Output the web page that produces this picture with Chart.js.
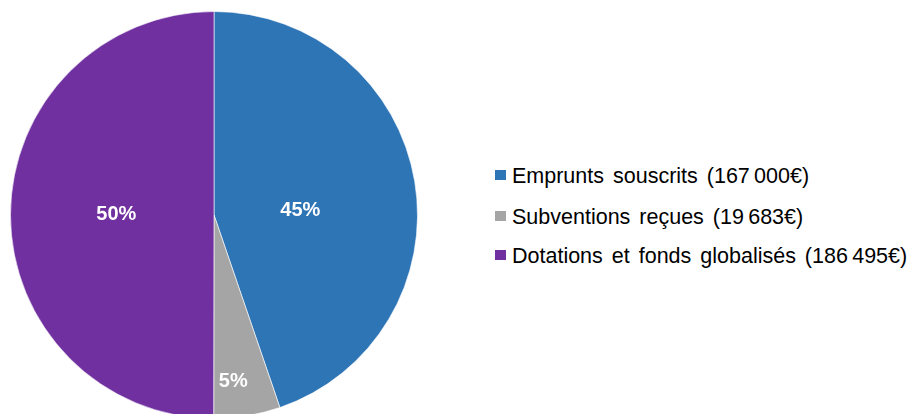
<!DOCTYPE html>
<html>
<head>
<meta charset="utf-8">
<script src="https://cdn.jsdelivr.net/npm/chart.js@4"></script>
<style>
  html, body { margin: 0; padding: 0; background: #fff; overflow: hidden; }
  body { width: 910px; height: 414px; position: relative; }
  #pieBox { position: absolute; left: 0; top: 0; width: 432px; height: 432px; }
  #legend { position: absolute; left: 495px; top: 0; font-family: "Liberation Sans", Arial, sans-serif; font-size: 21.5px; line-height: 22px; color: #000; }
  .item { position: absolute; left: 0; white-space: nowrap; word-spacing: 3px; }
  .swatch { display: inline-block; width: 11px; height: 10px; margin-right: 6px; vertical-align: 3px; }
</style>
</head>
<body>
<div id="pieBox"><canvas id="pie"></canvas></div>
<div id="legend"></div>
<script>
// données du graphique
const labels = ['Emprunts souscrits (167\u202F000€)', 'Subventions reçues (19\u202F683€)', 'Dotations et fonds globalisés (186\u202F495€)'];
const amounts = [167000, 19683, 186495];
const colors = ['#2E75B6', '#A5A5A5', '#7030A0'];

// placement des étiquettes : fraction du rayon + petit décalage
const labelRadius = [0.43, 0.82, 0.48];
const labelShift = [[0, 10], [-8, 2], [0, 0]];
const legendTops = [165, 206, 245];

const total = amounts.reduce((a, b) => a + b, 0);

const pctLabels = {
    id: 'pctLabels',
    afterDatasetsDraw(chart) {
        const ctx = chart.ctx;
        const meta = chart.getDatasetMeta(0);
        ctx.save();
        ctx.fillStyle = '#fff';
        ctx.font = 'bold 20px "Liberation Sans", Arial, sans-serif';
        ctx.textAlign = 'center';
        ctx.textBaseline = 'middle';
        meta.data.forEach((arc, i) => {
            const mid = (arc.startAngle + arc.endAngle) / 2;
            const r = arc.outerRadius * labelRadius[i];
            const x = arc.x + Math.cos(mid) * r + labelShift[i][0];
            const y = arc.y + Math.sin(mid) * r + labelShift[i][1];
            const pct = Math.round(amounts[i] / total * 100) + '%';
            ctx.fillText(pct, x, y);
        });
        ctx.restore();
    }
};

new Chart(document.getElementById('pie').getContext('2d'), {
    type: 'pie',
    data: {
        labels: labels,
        datasets: [{
            data: amounts,
            backgroundColor: colors,
            borderColor: 'rgba(255,255,255,0.6)',
            borderWidth: 1,
            hoverOffset: 0,
            offset: 0
        }]
    },
    options: {
        responsive: true,
        maintainAspectRatio: false,
        animation: false,
        layout: { padding: { top: 11, left: 10, right: 14, bottom: 13 } },
        plugins: {
            legend: { display: false },
            tooltip: { enabled: false }
        }
    },
    plugins: [pctLabels]
});

// légende à droite
const legend = document.getElementById('legend');
labels.forEach((txt, i) => {
    const div = document.createElement('div');
    div.className = 'item';
    div.style.top = legendTops[i] + 'px';
    div.innerHTML = '<span class="swatch" style="background:' + colors[i] + '"></span>' + txt;
    legend.appendChild(div);
});
</script>
</body>
</html>
